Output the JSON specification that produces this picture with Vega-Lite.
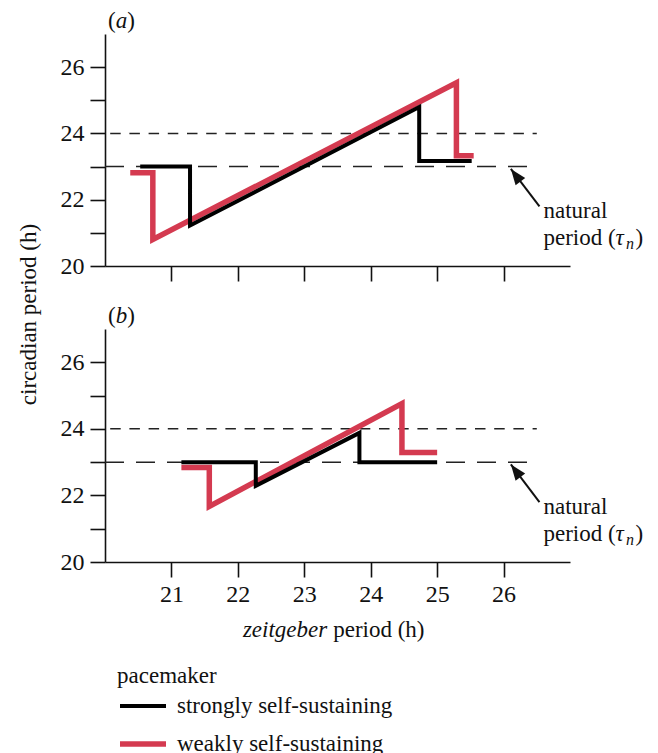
{
  "$schema": "https://vega.github.io/schema/vega-lite/v6.json",
  "autosize": {"type": "none"},
  "padding": {"left": 105, "top": 34, "right": 553, "bottom": 719},
  "background": "white",
  "config": {
    "font": "Liberation Serif",
    "view": {"stroke": null},
    "axis": {
      "labelFont": "Liberation Serif", "labelFontSize": 24, "labelColor": "#111",
      "domainColor": "#111", "tickColor": "#111", "domainWidth": 1.6, "tickWidth": 1.6,
      "tickSize": 15, "grid": false, "labelFlush": false, "labelOverlap": false, "labelBound": false,
      "titleFont": "Liberation Serif", "titleFontSize": 23, "titleFontWeight": "normal", "titleColor": "#111"
    },
    "axisX": {"labelPadding": 5},
    "axisY": {"labelPadding": 6},
    "legend": {"rowPadding": -4, "titlePadding": -7, "symbolType": "stroke", "symbolSize": 2116, "labelOffset": 8, "labelLimit": 400},
    "text": {"font": "Liberation Serif", "fontSize": 23, "color": "#111"}
  },
  "datasets": {
    "curves": [
      {"panel": "a", "pacemaker": "strongly self-sustaining", "idx": 1, "zeitgeber": 20.53, "circadian": 23.0},
      {"panel": "a", "pacemaker": "strongly self-sustaining", "idx": 2, "zeitgeber": 21.28, "circadian": 23.0},
      {"panel": "a", "pacemaker": "strongly self-sustaining", "idx": 3, "zeitgeber": 21.28, "circadian": 21.22},
      {"panel": "a", "pacemaker": "strongly self-sustaining", "idx": 4, "zeitgeber": 24.73, "circadian": 24.8},
      {"panel": "a", "pacemaker": "strongly self-sustaining", "idx": 5, "zeitgeber": 24.73, "circadian": 23.17},
      {"panel": "a", "pacemaker": "strongly self-sustaining", "idx": 6, "zeitgeber": 25.52, "circadian": 23.17},
      {"panel": "a", "pacemaker": "weakly self-sustaining", "idx": 1, "zeitgeber": 20.38, "circadian": 22.81},
      {"panel": "a", "pacemaker": "weakly self-sustaining", "idx": 2, "zeitgeber": 20.72, "circadian": 22.81},
      {"panel": "a", "pacemaker": "weakly self-sustaining", "idx": 3, "zeitgeber": 20.72, "circadian": 20.8},
      {"panel": "a", "pacemaker": "weakly self-sustaining", "idx": 4, "zeitgeber": 25.29, "circadian": 25.53},
      {"panel": "a", "pacemaker": "weakly self-sustaining", "idx": 5, "zeitgeber": 25.29, "circadian": 23.33},
      {"panel": "a", "pacemaker": "weakly self-sustaining", "idx": 6, "zeitgeber": 25.55, "circadian": 23.33},
      {"panel": "b", "pacemaker": "strongly self-sustaining", "idx": 1, "zeitgeber": 21.15, "circadian": 23.0},
      {"panel": "b", "pacemaker": "strongly self-sustaining", "idx": 2, "zeitgeber": 22.27, "circadian": 23.0},
      {"panel": "b", "pacemaker": "strongly self-sustaining", "idx": 3, "zeitgeber": 22.27, "circadian": 22.29},
      {"panel": "b", "pacemaker": "strongly self-sustaining", "idx": 4, "zeitgeber": 23.83, "circadian": 23.88},
      {"panel": "b", "pacemaker": "strongly self-sustaining", "idx": 5, "zeitgeber": 23.83, "circadian": 23.0},
      {"panel": "b", "pacemaker": "strongly self-sustaining", "idx": 6, "zeitgeber": 25.0, "circadian": 23.0},
      {"panel": "b", "pacemaker": "weakly self-sustaining", "idx": 1, "zeitgeber": 21.15, "circadian": 22.84},
      {"panel": "b", "pacemaker": "weakly self-sustaining", "idx": 2, "zeitgeber": 21.57, "circadian": 22.84},
      {"panel": "b", "pacemaker": "weakly self-sustaining", "idx": 3, "zeitgeber": 21.57, "circadian": 21.67},
      {"panel": "b", "pacemaker": "weakly self-sustaining", "idx": 4, "zeitgeber": 24.47, "circadian": 24.76},
      {"panel": "b", "pacemaker": "weakly self-sustaining", "idx": 5, "zeitgeber": 24.47, "circadian": 23.29},
      {"panel": "b", "pacemaker": "weakly self-sustaining", "idx": 6, "zeitgeber": 25.0, "circadian": 23.29}
    ],
    "arrow": [{"zeitgeber": 26.11, "circadian": 22.93, "zt": 26.54, "ct": 21.8}]
  },
  "bounds": "flush",
  "spacing": 63,
  "resolve": {"scale": {"color": "shared", "strokeWidth": "shared"}},
  "vconcat": [
    {
      "width": 465,
      "height": 232,
      "encoding": {
        "x": {"field": "zeitgeber", "type": "quantitative", "scale": {"domain": [20, 27], "nice": false, "zero": false},
              "axis": {"values": [21, 22, 23, 24, 25, 26], "labels": false, "title": null}},
        "y": {"field": "circadian", "type": "quantitative", "scale": {"domain": [20, 27], "nice": false, "zero": false},
              "axis": {"values": [20, 21, 22, 23, 24, 25, 26], "labelExpr": "datum.value % 2 == 0 ? datum.label : ''",
                       "title": "circadian period (h)", "titleX": -70, "titleY": 280, "titleBaseline": "alphabetic", "titleAngle": 270}}
      },
      "layer": [
        {"data": {"values": [{"zeitgeber": 20, "zend": 26.5, "circadian": 24}]},
         "mark": {"type": "rule", "strokeDash": [10.5, 8.7], "strokeDashOffset": 14, "strokeWidth": 1.5, "color": "#222"},
         "encoding": {"x2": {"field": "zend"}}},
        {"data": {"values": [{"zeitgeber": 20, "zend": 26.5, "circadian": 23}]},
         "mark": {"type": "rule", "strokeDash": [19, 12], "strokeWidth": 1.5, "color": "#222"},
         "encoding": {"x2": {"field": "zend"}}},
        {"data": {"name": "curves"},
         "transform": [{"filter": {"and": [{"field": "panel", "equal": "a"}, {"field": "pacemaker", "equal": "weakly self-sustaining"}]}}],
         "mark": {"type": "line", "strokeCap": "butt", "strokeJoin": "miter"},
         "encoding": {
           "order": {"field": "idx", "type": "quantitative"},
           "color": {"field": "pacemaker", "type": "nominal",
                     "scale": {"domain": ["strongly self-sustaining", "weakly self-sustaining"], "range": ["#000000", "#d43a50"]},
                     "legend": {"title": "pacemaker", "orient": "none", "legendX": 12, "legendY": 631,
                                "labelFontSize": 23, "titleFontSize": 23, "titleFontWeight": "normal", "labelFont": "Liberation Serif", "titleFont": "Liberation Serif",
                                "labelColor": "#111", "titleColor": "#111"}},
           "strokeWidth": {"field": "pacemaker", "type": "nominal",
                     "scale": {"domain": ["strongly self-sustaining", "weakly self-sustaining"], "range": [4, 5.5]},
                     "legend": {"title": "pacemaker", "orient": "none", "legendX": 12, "legendY": 631,
                                "labelFontSize": 23, "titleFontSize": 23, "titleFontWeight": "normal", "labelFont": "Liberation Serif", "titleFont": "Liberation Serif",
                                "labelColor": "#111", "titleColor": "#111"}}
         }},
        {"data": {"name": "curves"},
         "transform": [{"filter": {"and": [{"field": "panel", "equal": "a"}, {"field": "pacemaker", "equal": "strongly self-sustaining"}]}}],
         "mark": {"type": "line", "strokeCap": "butt", "strokeJoin": "miter"},
         "encoding": {
           "order": {"field": "idx", "type": "quantitative"},
           "color": {"field": "pacemaker", "type": "nominal",
                     "scale": {"domain": ["strongly self-sustaining", "weakly self-sustaining"], "range": ["#000000", "#d43a50"]}},
           "strokeWidth": {"field": "pacemaker", "type": "nominal",
                     "scale": {"domain": ["strongly self-sustaining", "weakly self-sustaining"], "range": [4, 5.5]}}
         }},
        {"data": {"name": "arrow"}, "mark": {"type": "rule", "strokeWidth": 2, "color": "#111"},
         "encoding": {"x2": {"field": "zt"}, "y2": {"field": "ct"}}},
        {"data": {"name": "arrow"}, "mark": {"type": "point", "shape": "M0,0L0.38,1L-0.38,1Z", "size": 1000, "angle": 323, "filled": true, "color": "#111", "opacity": 1, "strokeWidth": 0}},
        {"data": {"values": [{"zeitgeber": 26.6, "circadian": 21.45, "label": "natural"}]},
         "mark": {"type": "text", "align": "left", "baseline": "alphabetic"}, "encoding": {"text": {"field": "label"}}},
        {"data": {"values": [{"zeitgeber": 26.6, "circadian": 20.62, "label": "period ("}]},
         "mark": {"type": "text", "align": "left", "baseline": "alphabetic"}, "encoding": {"text": {"field": "label"}}},
        {"data": {"values": [{"zeitgeber": 26.6, "circadian": 20.62, "label": "τ"}]},
         "mark": {"type": "text", "align": "left", "baseline": "alphabetic", "fontStyle": "italic", "dx": 72}, "encoding": {"text": {"field": "label"}}},
        {"data": {"values": [{"zeitgeber": 26.6, "circadian": 20.62, "label": "n"}]},
         "mark": {"type": "text", "align": "left", "baseline": "alphabetic", "fontStyle": "italic", "fontSize": 16, "dx": 82.5, "dy": 4}, "encoding": {"text": {"field": "label"}}},
        {"data": {"values": [{"zeitgeber": 26.6, "circadian": 20.62, "label": ")"}]},
         "mark": {"type": "text", "align": "left", "baseline": "alphabetic", "dx": 92}, "encoding": {"text": {"field": "label"}}},
        {"data": {"values": [{"zeitgeber": 20, "circadian": 27, "label": "("}]},
         "mark": {"type": "text", "align": "left", "baseline": "alphabetic", "dx": 3, "dy": -6}, "encoding": {"text": {"field": "label"}}},
        {"data": {"values": [{"zeitgeber": 20, "circadian": 27, "label": "a"}]},
         "mark": {"type": "text", "align": "left", "baseline": "alphabetic", "fontStyle": "italic", "dx": 10.7, "dy": -6}, "encoding": {"text": {"field": "label"}}},
        {"data": {"values": [{"zeitgeber": 20, "circadian": 27, "label": ")"}]},
         "mark": {"type": "text", "align": "left", "baseline": "alphabetic", "dx": 22.2, "dy": -6}, "encoding": {"text": {"field": "label"}}}
      ]
    },
    {
      "width": 465,
      "height": 233,
      "encoding": {
        "x": {"field": "zeitgeber", "type": "quantitative", "scale": {"domain": [20, 27], "nice": false, "zero": false},
              "axis": {"values": [21, 22, 23, 24, 25, 26], "title": null}},
        "y": {"field": "circadian", "type": "quantitative", "scale": {"domain": [20, 27], "nice": false, "zero": false},
              "axis": {"values": [20, 21, 22, 23, 24, 25, 26], "labelExpr": "datum.value % 2 == 0 ? datum.label : ''", "title": null}}
      },
      "layer": [
        {"data": {"values": [{"zeitgeber": 20, "zend": 26.5, "circadian": 24}]},
         "mark": {"type": "rule", "strokeDash": [10.5, 8.7], "strokeDashOffset": 14, "strokeWidth": 1.5, "color": "#222"},
         "encoding": {"x2": {"field": "zend"}}},
        {"data": {"values": [{"zeitgeber": 20, "zend": 26.5, "circadian": 23}]},
         "mark": {"type": "rule", "strokeDash": [19, 12], "strokeWidth": 1.5, "color": "#222"},
         "encoding": {"x2": {"field": "zend"}}},
        {"data": {"name": "curves"},
         "transform": [{"filter": {"and": [{"field": "panel", "equal": "b"}, {"field": "pacemaker", "equal": "weakly self-sustaining"}]}}],
         "mark": {"type": "line", "strokeCap": "butt", "strokeJoin": "miter"},
         "encoding": {
           "order": {"field": "idx", "type": "quantitative"},
           "color": {"field": "pacemaker", "type": "nominal",
                     "scale": {"domain": ["strongly self-sustaining", "weakly self-sustaining"], "range": ["#000000", "#d43a50"]}},
           "strokeWidth": {"field": "pacemaker", "type": "nominal",
                     "scale": {"domain": ["strongly self-sustaining", "weakly self-sustaining"], "range": [4, 5.5]}}
         }},
        {"data": {"name": "curves"},
         "transform": [{"filter": {"and": [{"field": "panel", "equal": "b"}, {"field": "pacemaker", "equal": "strongly self-sustaining"}]}}],
         "mark": {"type": "line", "strokeCap": "butt", "strokeJoin": "miter"},
         "encoding": {
           "order": {"field": "idx", "type": "quantitative"},
           "color": {"field": "pacemaker", "type": "nominal",
                     "scale": {"domain": ["strongly self-sustaining", "weakly self-sustaining"], "range": ["#000000", "#d43a50"]}},
           "strokeWidth": {"field": "pacemaker", "type": "nominal",
                     "scale": {"domain": ["strongly self-sustaining", "weakly self-sustaining"], "range": [4, 5.5]}}
         }},
        {"data": {"name": "arrow"}, "mark": {"type": "rule", "strokeWidth": 2, "color": "#111"},
         "encoding": {"x2": {"field": "zt"}, "y2": {"field": "ct"}}},
        {"data": {"name": "arrow"}, "mark": {"type": "point", "shape": "M0,0L0.38,1L-0.38,1Z", "size": 1000, "angle": 323, "filled": true, "color": "#111", "opacity": 1, "strokeWidth": 0}},
        {"data": {"values": [{"zeitgeber": 26.6, "circadian": 21.45, "label": "natural"}]},
         "mark": {"type": "text", "align": "left", "baseline": "alphabetic"}, "encoding": {"text": {"field": "label"}}},
        {"data": {"values": [{"zeitgeber": 26.6, "circadian": 20.62, "label": "period ("}]},
         "mark": {"type": "text", "align": "left", "baseline": "alphabetic"}, "encoding": {"text": {"field": "label"}}},
        {"data": {"values": [{"zeitgeber": 26.6, "circadian": 20.62, "label": "τ"}]},
         "mark": {"type": "text", "align": "left", "baseline": "alphabetic", "fontStyle": "italic", "dx": 72}, "encoding": {"text": {"field": "label"}}},
        {"data": {"values": [{"zeitgeber": 26.6, "circadian": 20.62, "label": "n"}]},
         "mark": {"type": "text", "align": "left", "baseline": "alphabetic", "fontStyle": "italic", "fontSize": 16, "dx": 82.5, "dy": 4}, "encoding": {"text": {"field": "label"}}},
        {"data": {"values": [{"zeitgeber": 26.6, "circadian": 20.62, "label": ")"}]},
         "mark": {"type": "text", "align": "left", "baseline": "alphabetic", "dx": 92}, "encoding": {"text": {"field": "label"}}},
        {"data": {"values": [{"zeitgeber": 20, "circadian": 27, "label": "("}]},
         "mark": {"type": "text", "align": "left", "baseline": "alphabetic", "dx": 3, "dy": -6}, "encoding": {"text": {"field": "label"}}},
        {"data": {"values": [{"zeitgeber": 20, "circadian": 27, "label": "b"}]},
         "mark": {"type": "text", "align": "left", "baseline": "alphabetic", "fontStyle": "italic", "dx": 10.7, "dy": -6}, "encoding": {"text": {"field": "label"}}},
        {"data": {"values": [{"zeitgeber": 20, "circadian": 27, "label": ")"}]},
         "mark": {"type": "text", "align": "left", "baseline": "alphabetic", "dx": 22.2, "dy": -6}, "encoding": {"text": {"field": "label"}}},
        {"data": {"values": [{"zeitgeber": 23.39, "circadian": 20, "label": "zeitgeber"}]},
         "mark": {"type": "text", "align": "right", "baseline": "alphabetic", "fontStyle": "italic", "dx": -3, "dy": 75}, "encoding": {"text": {"field": "label"}}},
        {"data": {"values": [{"zeitgeber": 23.39, "circadian": 20, "label": "period (h)"}]},
         "mark": {"type": "text", "align": "left", "baseline": "alphabetic", "dx": 3, "dy": 75}, "encoding": {"text": {"field": "label"}}}
      ]
    }
  ]
}
